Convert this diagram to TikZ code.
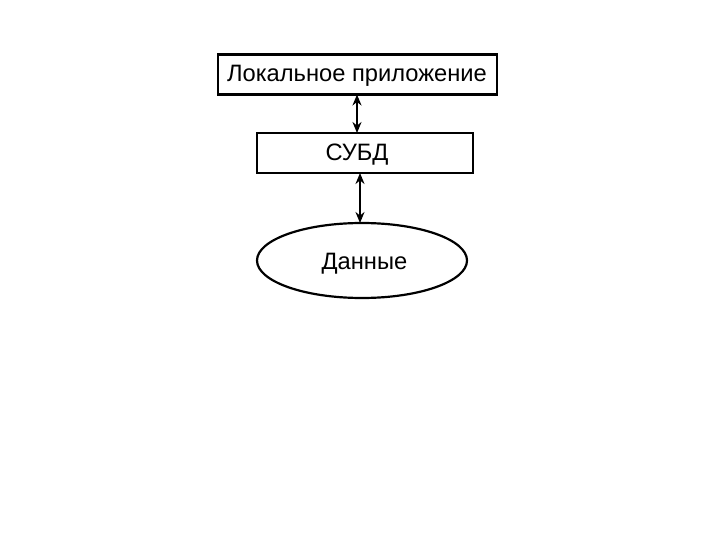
\documentclass[tikz,border=0pt]{standalone}
\usepackage{fontspec}
\setmainfont{Liberation Sans}
\usetikzlibrary{shapes.geometric,arrows.meta}
\begin{document}
\begin{tikzpicture}[x=1pt,y=-1pt,
  boxa/.style={draw,line width=2.2pt,inner sep=0pt},
  lbl/.style={font=\fontsize{23.7}{27}\selectfont,inner sep=0pt,anchor=base},
  link/.style={line width=2.2pt,{Stealth[length=11pt,width=9pt]}-{Stealth[length=11pt,width=9pt]}}]
\useasboundingbox (0,0) rectangle (720,540);
\fill[white] (0,0) rectangle (720,540);
\node[boxa,minimum width=279pt,minimum height=40pt] (app) at (357.5,74.5) {};
\node[lbl] (appt) at (357,81.5) {Локальное приложение};
\node[boxa,minimum width=216pt,minimum height=40pt] (dbms) at (365,153) {};
\node[lbl] (dbmst) at (357,161) {СУБД};
\node[draw,line width=2.2pt,ellipse,minimum width=210pt,minimum height=75pt,inner sep=0pt] (data) at (362,260.5) {};
\node[lbl] (datat) at (364.5,269) {Данные};
\coordinate (a1) at (357,94.5);
\coordinate (a2) at (357,133);
\coordinate (b1) at (360,173);
\coordinate (b2) at (360,223);
\draw[link] (a1) -- (a2);
\draw[link] (b1) -- (b2);
\end{tikzpicture}
\end{document}
